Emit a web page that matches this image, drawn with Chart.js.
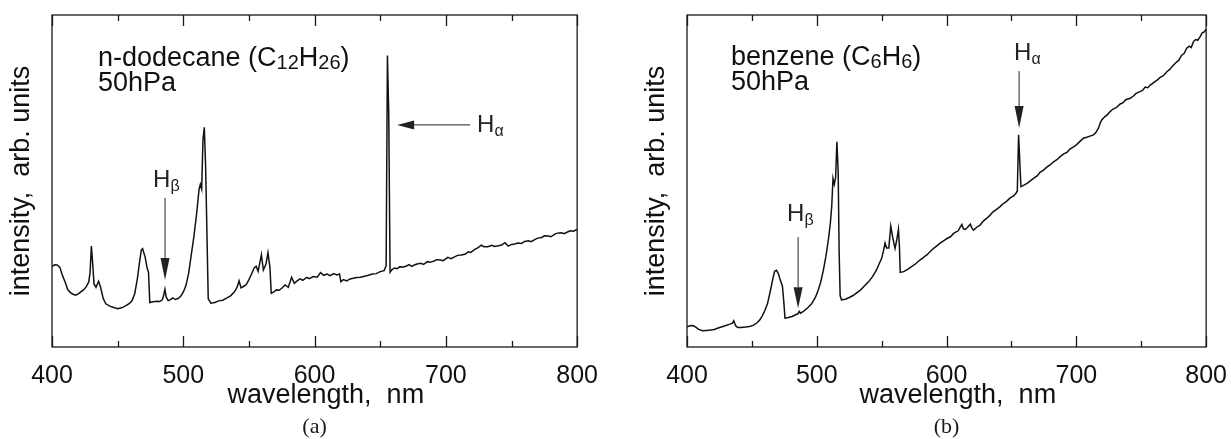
<!DOCTYPE html>
<html>
<head>
<meta charset="utf-8">
<script src="https://cdn.jsdelivr.net/npm/chart.js@4.4.1/dist/chart.umd.min.js"></script>
<style>
  html, body { margin: 0; padding: 0; background: #fff; overflow: hidden; }
  canvas { position: absolute; top: 0; }
  #chartA { left: 0; }
  #chartB { left: 635px; }
</style>
</head>
<body>
<canvas id="chartA" width="604" height="439"></canvas>
<canvas id="chartB" width="598" height="439"></canvas>
<script>
// (a) n-dodecane spectrum, wavelength in nm, intensity in arb. units (0-100 of the frame)
const dodecaneWl = [400, 402, 404, 406, 408, 410, 412, 414, 416, 418, 420, 422, 424, 426, 428, 429, 430, 431, 432, 433.5,
  435.5, 437, 439, 441, 444, 447, 450, 453, 456, 459, 461, 463, 465, 466.5, 468, 469, 470, 471, 472.5, 473.5,
  474.5, 477, 480, 482, 484, 485, 486, 487, 488.5, 490, 492, 494, 496, 498, 500, 502, 504, 506, 508, 510,
  511, 512, 513, 514, 515, 516, 517, 518, 519, 521, 524, 527, 530, 533, 536, 539, 541, 542.5, 544, 546,
  548, 550, 552, 554, 555.5, 557, 559.5, 561, 563, 564.5, 566, 567, 569, 571, 573, 575, 577.5, 580, 582.5, 584.5,
  587, 589, 591, 594, 596, 599, 602, 604.5, 607, 609.5, 612, 614.5, 617, 619, 620, 622, 624.5, 627, 629.5, 632,
  635, 638, 641, 644, 647, 650, 653, 654.5, 655.5, 656.5, 657.5, 659, 661, 663, 665, 667, 670, 672, 674, 676,
  678, 681, 683, 686, 688, 691, 693, 696, 698, 701.5, 704, 707, 709, 712, 715, 717, 719, 722, 724, 727,
  729, 732, 735, 737, 740, 742.5, 745, 747.5, 750, 752.5, 755, 757.5, 760, 763, 765, 768, 770, 773, 775, 778,
  780, 783, 785, 788, 790, 793, 795, 797, 800];
const dodecaneInt = [24.2, 24.8, 24.7, 24.0, 21.5, 19.6, 17.3, 16.4, 15.9, 15.6, 16.0, 16.6, 17.2, 18.1, 19.6, 22.5, 30.4, 25.0, 19.0, 18.0,
  19.8, 18.0, 14.6, 13.0, 12.3, 11.9, 11.5, 11.8, 12.4, 13.1, 14.0, 16.0, 20.5, 25.0, 29.2, 29.6, 28.3, 27.0, 23.7, 22.5,
  13.4, 13.6, 13.8, 13.7, 14.2, 15.5, 17.4, 15.0, 14.0, 14.2, 14.8, 14.3, 14.6, 15.3, 16.5, 18.5, 22.0, 27.5, 33.0, 39.6,
  43.5, 47.5, 49.0, 47.6, 62.4, 66.2, 54.5, 34.6, 14.5, 13.2, 13.4, 13.9, 14.1, 14.7, 15.4, 16.6, 18.0, 19.9, 17.8, 18.3,
  18.8, 20.3, 22.0, 23.8, 24.3, 22.8, 27.8, 23.2, 25.0, 28.4, 24.0, 16.2, 16.6, 17.2, 17.1, 17.7, 18.7, 18.0, 21.0, 19.2,
  20.0, 20.5, 20.1, 21.0, 20.6, 21.2, 21.0, 22.4, 21.6, 22.0, 21.5, 22.1, 21.7, 22.0, 19.7, 20.3, 19.9, 20.5, 20.7, 20.9,
  21.0, 21.3, 21.6, 22.0, 22.1, 22.7, 23.0, 24.5, 87.8, 70.0, 22.5, 23.3, 23.8, 23.6, 24.2, 24.0, 24.4, 24.8, 24.3, 24.7,
  25.0, 25.2, 24.9, 25.7, 25.5, 25.9, 26.3, 26.2, 26.0, 27.0, 26.6, 27.2, 27.6, 27.7, 28.0, 28.7, 28.5, 29.4, 29.8, 30.7,
  30.2, 30.2, 30.6, 30.3, 30.5, 30.7, 31.4, 30.4, 30.9, 31.0, 31.3, 31.2, 31.8, 32.0, 31.7, 32.4, 32.8, 33.0, 33.5, 33.4,
  33.2, 34.0, 34.3, 34.4, 34.1, 34.7, 35.0, 34.9, 35.4];

// (b) benzene spectrum
const benzeneWl = [400, 403, 405, 407, 409, 412, 415, 418, 421, 424, 427, 430, 433, 435, 436, 437.5, 439, 442, 445, 448,
  451, 454, 456, 458, 460, 462, 464, 466, 467.5, 469, 470.5, 472, 473.5, 474.5, 475.5, 478, 481, 484, 485.5, 486.5,
  487.5, 490, 493, 496, 499, 501, 503, 505, 507, 509, 510.5, 511.5, 512.5, 513.5, 514.5, 515.5, 516.5, 517.2, 518, 519,
  522, 525, 528, 531, 534, 537, 540, 543, 546, 548, 550, 551.5, 552.6, 553.8, 555.5, 557, 558.5, 560.3, 561.5, 562.9,
  563.7, 564.3, 567, 570, 573, 576, 579.5, 582, 585, 588, 590, 593, 595, 597.6, 600, 603, 605.4, 607, 609, 610.5,
  611.8, 613, 614.4, 616, 618.3, 619.5, 620.8, 623, 626, 628.5, 631, 633, 636, 638, 641, 644, 646, 649, 651.6, 653.5,
  654.5, 655.5, 656.5, 657.3, 659, 662, 664, 667, 670, 672, 674.7, 677, 680, 682.4, 685, 688, 690, 693, 695, 697.8,
  700, 703, 705.5, 708, 711, 713.2, 715, 717, 718.5, 719.6, 722, 724, 726, 728, 731, 733.8, 736, 738, 741.5, 744,
  746, 749, 751, 753, 755, 757, 760, 762, 764.6, 767, 769.7, 772, 774, 777.4, 779, 781, 783, 785, 787, 788.5,
  790.3, 792, 793.5, 795.4, 797, 798.5, 800];
const benzeneInt = [6.1, 6.5, 6.4, 5.9, 5.3, 4.9, 5.0, 5.1, 5.3, 5.7, 6.1, 6.5, 6.9, 7.2, 7.9, 6.4, 5.9, 5.9, 6.0, 6.2,
  6.5, 7.3, 8.1, 9.4, 11.0, 13.0, 16.5, 20.3, 22.8, 23.1, 22.0, 20.0, 18.4, 14.0, 8.7, 8.9, 9.2, 9.8, 10.0, 10.7,
  10.2, 10.8, 11.8, 13.0, 15.0, 17.0, 19.5, 23.0, 27.2, 32.5, 37.5, 42.3, 50.8, 49.0, 51.0, 61.8, 52.3, 29.1, 15.5, 14.2,
  14.4, 14.9, 15.5, 16.4, 17.3, 18.5, 19.7, 21.2, 23.2, 25.0, 26.7, 29.2, 31.3, 29.8, 29.8, 36.4, 33.0, 29.7, 32.0, 35.4,
  30.0, 22.5, 22.7, 23.4, 24.2, 25.0, 26.2, 26.9, 27.8, 29.0, 29.7, 30.6, 31.3, 32.0, 32.6, 33.2, 34.2, 34.6, 35.0, 36.1,
  36.9, 35.6, 35.4, 36.0, 37.0, 35.8, 35.2, 36.0, 36.8, 38.0, 38.8, 39.5, 40.8, 41.3, 42.2, 43.3, 43.8, 44.9, 45.5, 46.3,
  47.0, 63.9, 55.0, 48.3, 48.6, 49.3, 49.9, 50.8, 51.6, 52.6, 53.3, 54.1, 54.9, 55.8, 56.4, 57.5, 58.1, 58.7, 59.6, 60.3,
  60.9, 62.0, 62.9, 63.2, 63.6, 63.9, 64.6, 65.9, 67.6, 68.4, 69.4, 70.0, 70.9, 71.6, 72.2, 73.2, 73.6, 74.5, 74.9, 75.6,
  76.4, 76.9, 77.3, 78.3, 78.1, 78.9, 79.8, 80.3, 81.2, 81.7, 82.9, 83.6, 84.6, 85.9, 86.4, 87.8, 88.4, 90.0, 90.6, 90.2,
  92.0, 92.6, 92.4, 93.5, 94.6, 94.9, 95.7];

const xTickLabels = ['400', '500', '600', '700', '800'];

const SANS = '"Liberation Sans", Arial, sans-serif';
const SERIF = '"Liberation Serif", "Times New Roman", serif';

// draw text made of normal and subscript runs, starting at x (baseline y)
function drawRich(ctx, parts, x, y, size, subSize, subDy) {
  ctx.textBaseline = 'alphabetic';
  ctx.textAlign = 'left';
  for (const p of parts) {
    const s = p.sub ? subSize : size;
    ctx.font = s + 'px ' + SANS;
    ctx.fillText(p.t, x, y + (p.sub ? subDy : 0));
    x += ctx.measureText(p.t).width;
  }
}

function drawArrow(ctx, x1, y1, x2, y2, headLen, headHalf) {
  const ang = Math.atan2(y2 - y1, x2 - x1);
  const bx = x2 - Math.cos(ang) * headLen, by = y2 - Math.sin(ang) * headLen;
  ctx.beginPath();
  ctx.moveTo(x1, y1);
  ctx.lineTo(bx, by);
  ctx.stroke();
  ctx.beginPath();
  ctx.moveTo(x2, y2);
  ctx.lineTo(bx - Math.sin(ang) * headHalf, by + Math.cos(ang) * headHalf);
  ctx.lineTo(bx + Math.sin(ang) * headHalf, by - Math.cos(ang) * headHalf);
  ctx.closePath();
  ctx.fill();
}

// frame, inward ticks, caption and annotations
const decor = {
  id: 'decor',
  afterDatasetsDraw(chart, args, opts) {
    const {ctx, chartArea: a, scales: {x, y}} = chart;
    ctx.save();
    ctx.strokeStyle = '#1a1a1a';
    ctx.fillStyle = '#1a1a1a';
    ctx.lineWidth = 1.3;
    ctx.strokeRect(a.left, a.top, a.right - a.left, a.bottom - a.top);
    ctx.beginPath();
    for (let v = x.min; v <= x.max; v += 50) {
      const px = Math.round(x.getPixelForValue(v)) + 0.5;
      const len = v % 100 === 0 ? 11 : 6;
      ctx.moveTo(px, a.bottom); ctx.lineTo(px, a.bottom - len);
      ctx.moveTo(px, a.top); ctx.lineTo(px, a.top + len);
    }
    ctx.stroke();

    // caption under the axis title
    ctx.font = '22px ' + SERIF;
    ctx.textAlign = 'center';
    ctx.textBaseline = 'middle';
    ctx.fillText(opts.caption, (a.left + a.right) / 2, a.bottom + 80);

    // sample label
    ctx.fillStyle = '#111';
    const lx = x.getPixelForValue(opts.label.x), ly = y.getPixelForValue(opts.label.y);
    opts.label.lines.forEach((parts, i) => drawRich(ctx, parts, lx, ly + i * 25, 27, 20, 3));

    // hydrogen lines
    ctx.fillStyle = '#222';
    ctx.strokeStyle = '#222';
    ctx.lineWidth = 1;
    for (const n of opts.notes) {
      drawRich(ctx, n.text, x.getPixelForValue(n.at[0]), y.getPixelForValue(n.at[1]), 24, 16, 4);
      drawArrow(ctx, x.getPixelForValue(n.from[0]), y.getPixelForValue(n.from[1]),
        x.getPixelForValue(n.to[0]), y.getPixelForValue(n.to[1]), n.head, 4.5);
    }
    ctx.restore();
  }
};

function makeChart(id, wl, values, decorOpts) {
  return new Chart(document.getElementById(id), {
    type: 'line',
    data: {
      datasets: [{
        data: wl.map((w, i) => ({x: w, y: values[i]})),
        borderColor: '#111',
        borderWidth: 1.5,
        pointRadius: 0,
        tension: 0,
        fill: false
      }]
    },
    options: {
      responsive: false,
      animation: false,
      layout: {padding: {left: 2, top: 15, right: 0, bottom: 0}},
      plugins: {legend: {display: false}, tooltip: {enabled: false}, decor: decorOpts},
      scales: {
        x: {
          type: 'linear', min: 400, max: 800,
          afterFit(scale) { scale.height = 92; },
          grid: {display: false},
          border: {display: false},
          ticks: {
            stepSize: 100, padding: 6, color: '#111',
            font: {family: SANS, size: 25},
            callback: v => xTickLabels.includes(String(v)) ? String(v) : ''
          },
          title: {
            display: true, text: '\u00a0\u00a0\u00a0wavelength,  nm', color: '#111',
            font: {family: SANS, size: 27, lineHeight: 1},
            padding: {top: 0, bottom: 29.5}
          }
        },
        y: {
          min: 0, max: 100,
          afterFit(scale) { scale.width = 50; },
          grid: {display: false},
          border: {display: false},
          ticks: {display: false},
          title: {
            display: true, text: 'intensity,  arb. units', color: '#111',
            font: {family: SANS, size: 27},
            padding: {top: 3.3, bottom: 0}
          }
        }
      }
    },
    plugins: [decor]
  });
}

makeChart('chartA', dodecaneWl, dodecaneInt, {
  caption: '(a)',
  label: {x: 435, y: 84.6, lines: [
    [{t: 'n-dodecane (C'}, {t: '12', sub: true}, {t: 'H'}, {t: '26', sub: true}, {t: ')'}],
    [{t: '50hPa'}]
  ]},
  notes: [
    {text: [{t: 'H'}, {t: '\u03b2', sub: true}], at: [477, 48.2], from: [486.1, 44.9], to: [486.1, 20.2], head: 22},
    {text: [{t: 'H'}, {t: '\u03b1', sub: true}], at: [723.8, 64.8], from: [718.5, 66.9], to: [662.9, 66.9], head: 17}
  ]
});

makeChart('chartB', benzeneWl, benzeneInt, {
  caption: '(b)',
  label: {x: 433.9, y: 84.9, lines: [
    [{t: 'benzene (C'}, {t: '6', sub: true}, {t: 'H'}, {t: '6', sub: true}, {t: ')'}],
    [{t: '50hPa'}]
  ]},
  notes: [
    {text: [{t: 'H'}, {t: '\u03b1', sub: true}], at: [652, 86.4], from: [655.9, 83.1], to: [655.9, 66.0], head: 22},
    {text: [{t: 'H'}, {t: '\u03b2', sub: true}], at: [477.1, 38.0], from: [485.6, 33.1], to: [485.6, 11.7], head: 21}
  ]
});
</script>
</body>
</html>
